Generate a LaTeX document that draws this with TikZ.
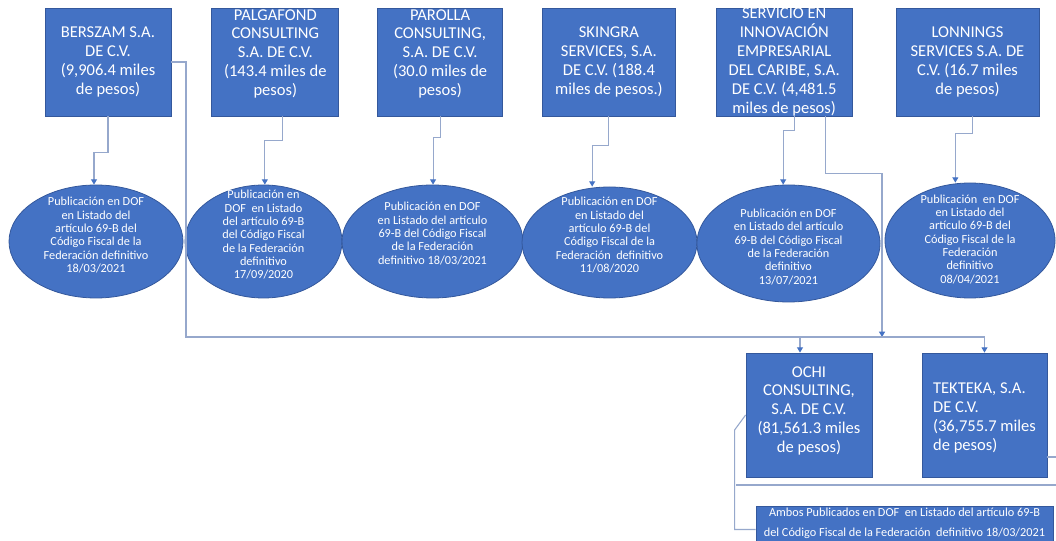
\documentclass[tikz,border=0pt]{standalone}
\usepackage{fontspec}
\setmainfont{Carlito}
\usepackage{xcolor}
\usepackage{tikz}
\usetikzlibrary{positioning,arrows.meta,shapes.geometric}
\definecolor{officeblue}{RGB}{68,114,196}
\definecolor{officeedge}{RGB}{52,88,156}
\definecolor{linkgray}{RGB}{150,168,204}
\newcommand{\boxtext}[2][c]{\smash{\raisebox{-0.25em}{\begin{tabular}{@{}#1@{}}#2\end{tabular}}}}

\begin{document}
\begin{tikzpicture}[
    x=0.75pt, y=-0.75pt,
    node distance=29pt,
    box/.style={draw=officeedge, fill=officeblue, line width=0.6pt, text=white, inner sep=2pt, minimum height=81pt, font=\fontsize{12.4}{14.2}\selectfont},
    ell/.style={ellipse, draw=officeedge, fill=officeblue, line width=0.6pt, text=white, inner sep=0pt, minimum height=84.75pt, font=\fontsize{9.2}{10}\selectfont},
    conn/.style={-{Triangle[length=4pt,width=4.5pt,color=officeblue]}, draw=linkgray, line width=0.8pt},
    link/.style={draw=linkgray, line width=0.8pt}
]
\useasboundingbox (0,0) rectangle (1056,541);
\fill[white] (0,0) rectangle (1056,541);

\node[box, minimum width=94.5pt] (berszam) at (108,62) {\boxtext{BERSZAM S.A.\\DE C.V.\\(9,906.4 miles\\de pesos)}};
\node[box, minimum width=95.25pt, text depth=12pt, right=30pt of berszam] (palgafond) {\boxtext{PALGAFOND\\CONSULTING\\S.A. DE C.V.\\(143.4 miles de\\pesos)}};
\node[box, minimum width=93.75pt, text depth=12pt, right=28.5pt of palgafond] (parolla) {\boxtext{PAROLLA\\CONSULTING,\\S.A. DE C.V.\\(30.0 miles de\\pesos)}};
\node[box, minimum width=99.75pt, right=29.25pt of parolla] (skingra) {\boxtext{SKINGRA\\SERVICES, S.A.\\DE C.V. (188.4\\miles de pesos.)}};
\node[box, minimum width=102pt, right=30pt of skingra] (servicio) {\boxtext{SERVICIO EN\\INNOVACIÓN\\EMPRESARIAL\\DEL CARIBE, S.A.\\DE C.V. (4,481.5\\miles de pesos)}};
\node[box, minimum width=107.25pt, right=32.25pt of servicio] (lonnings) {\boxtext{LONNINGS\\SERVICES S.A. DE\\C.V. (16.7 miles\\de pesos)}};

\node[ell, minimum width=130.5pt, text depth=7.5pt] (berszamdof) at (96,241.5) {\boxtext{Publicación en DOF\\en Listado del\\artículo 69-B del\\Código Fiscal de la\\Federación definitivo\\18/03/2021}};
\node[ell, minimum width=117.75pt, text depth=8pt] (palgafonddof) at (263.5,241.5) {\boxtext{Publicación en\\DOF~ en Listado\\del artículo 69-B\\del Código Fiscal\\de la Federación\\definitivo\\17/09/2020}};
\node[ell, minimum width=135.75pt, text depth=10pt] (parolladof) at (432.5,241.5) {\boxtext{Publicación en DOF\\en Listado del artículo\\69-B del Código Fiscal\\de la Federación\\definitivo 18/03/2021}};
\node[ell, minimum width=131.25pt, minimum height=83.25pt, text depth=9pt] (skingradof) at (609.5,242.5) {\boxtext{Publicación en DOF\\en Listado del\\artículo 69-B del\\Código Fiscal de la\\Federación~ definitivo\\11/08/2020}};
\node[ell, minimum width=137.25pt, minimum height=87.75pt, text height=6.8pt] (serviciodof) at (788.5,243.5) {\boxtext{Publicación en DOF\\en Listado del artículo\\69-B del Código Fiscal\\de la Federación\\definitivo\\13/07/2021}};
\node[ell, minimum width=127.5pt, minimum height=86.25pt] (lonningsdof) at (970,240.5) {\boxtext{Publicación~ en DOF\\en Listado del\\artículo 69-B del\\Código Fiscal de la\\Federación\\definitivo\\08/04/2021}};

\node[box, minimum width=94.5pt, minimum height=93pt, text depth=6pt] (ochi) at (809,415) {\boxtext{OCHI\\CONSULTING,\\S.A. DE C.V.\\(81,561.3 miles\\de pesos)}};
\node[box, minimum width=93.75pt, minimum height=93pt, text height=4.5pt] (tekteka) at (984.5,415) {\boxtext[l]{TEKTEKA, S.A.\\DE C.V.\\(36,755.7 miles\\de pesos)}};
\node[box, minimum width=222.75pt, minimum height=29.25pt, text depth=4pt, font=\fontsize{9.2}{15}\selectfont] (ambos) at (904.5,525.5) {\boxtext{Ambos Publicados en DOF~ en Listado del artículo 69-B\\del Código Fiscal de la Federación~ definitivo 18/03/2021}};

\coordinate (bus) at (186,337);
\coordinate (split) at (800,337);
\coordinate (merge) at (882,337);
\coordinate (tie) at (735.75,485);

\draw[conn] (berszam.south) -- ++(0,36) -| ([xshift=-1.5pt]berszamdof.north);
\draw[conn] ([xshift=5.6pt]palgafond.south) -- ++(0,24) -| ([xshift=1pt]palgafonddof.north);
\draw[conn] (parolla.south) -- ++(0,21) -| ([xshift=0.4pt]parolladof.north);
\draw[conn] (skingra.south) -- ++(0,29) -| ([xshift=-13pt]skingradof.north);
\draw[conn] ([xshift=7.5pt]servicio.south) -- ++(0,14) -| ([xshift=-4pt]serviciodof.north);
\draw[conn] ([xshift=3.4pt]lonnings.south) -- ++(0,17) -| ([xshift=-11pt]lonningsdof.north);
\draw[conn] ([xshift=30.75pt]servicio.south) -- ++(0,57) -| (merge);
\draw[conn] (berszam.east) -| (bus) -| (tekteka.north);
\draw[conn] (split) -- (split |- ochi.north);
\draw[link] (ochi.west) -- ++(-11,15) |- ([yshift=-3pt]ambos.west);
\draw[link] ([yshift=-31.5pt]tekteka.east) -- ++(15,0) |- (tie);
\end{tikzpicture}
\end{document}
